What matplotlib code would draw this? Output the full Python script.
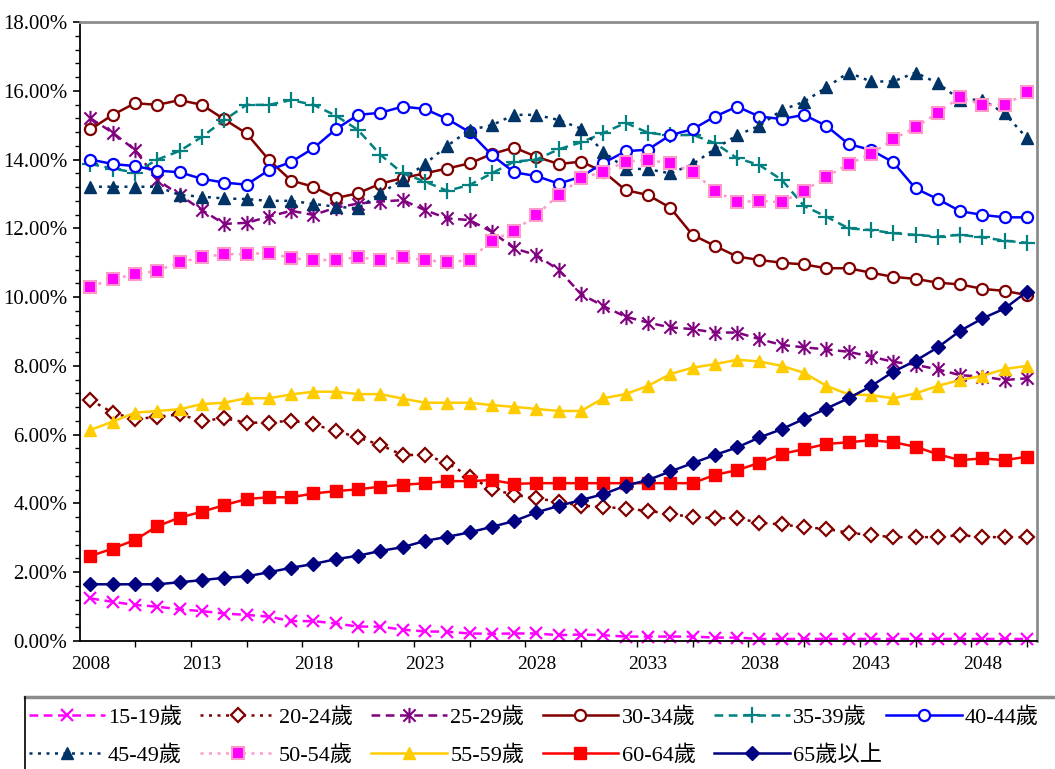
import matplotlib.pyplot as plt
from matplotlib.path import Path
from matplotlib.lines import Line2D
from matplotlib.ticker import FuncFormatter, MultipleLocator, FixedLocator

plt.rcParams['font.family'] = ['Liberation Serif', 'Noto Sans CJK TC']

years = list(range(2008, 2051))

age_15_19 = [1.24, 1.14, 1.05, 1.00, 0.92, 0.87, 0.80, 0.76, 0.71, 0.58, 0.58, 0.51, 0.42, 0.42, 0.33,
             0.28, 0.27, 0.22, 0.21, 0.22, 0.22, 0.17, 0.19, 0.17, 0.13, 0.13, 0.13, 0.13,
             0.10, 0.10, 0.06, 0.06, 0.06, 0.06, 0.06, 0.06, 0.06, 0.06, 0.06, 0.06, 0.06, 0.06, 0.06]
age_20_24 = [7.01, 6.64, 6.45, 6.52, 6.59, 6.40, 6.48, 6.35, 6.35, 6.41, 6.30, 6.11, 5.92, 5.70, 5.41,
             5.41, 5.18, 4.78, 4.42, 4.25, 4.15, 4.05, 3.93, 3.91, 3.84, 3.79, 3.69, 3.61,
             3.57, 3.57, 3.44, 3.39, 3.31, 3.26, 3.15, 3.08, 3.02, 3.02, 3.02, 3.08, 3.02, 3.02, 3.02]
age_25_29 = [15.20, 14.78, 14.28, 13.41, 12.97, 12.53, 12.13, 12.16, 12.34, 12.51, 12.39, 12.60, 12.72, 12.78, 12.82,
             12.53, 12.29, 12.24, 11.90, 11.42, 11.22, 10.79, 10.09, 9.74, 9.43, 9.26, 9.12, 9.07,
             8.97, 8.97, 8.78, 8.61, 8.54, 8.48, 8.41, 8.27, 8.12, 8.03, 7.90, 7.73, 7.69, 7.59, 7.64]
age_30_34 = [14.88, 15.30, 15.64, 15.59, 15.73, 15.59, 15.17, 14.76, 13.99, 13.39, 13.21, 12.88, 13.02, 13.30, 13.46,
             13.60, 13.74, 13.89, 14.16, 14.35, 14.08, 13.87, 13.94, 13.65, 13.11, 12.97, 12.60, 11.81,
             11.49, 11.18, 11.08, 11.00, 10.95, 10.84, 10.84, 10.71, 10.59, 10.53, 10.42, 10.37, 10.24, 10.18, 10.06]
age_35_39 = [13.87, 13.74, 13.62, 14.00, 14.25, 14.66, 15.15, 15.59, 15.59, 15.73, 15.59, 15.28, 14.86, 14.14, 13.60,
             13.36, 13.09, 13.26, 13.60, 13.94, 14.00, 14.30, 14.50, 14.77, 15.07, 14.78, 14.70, 14.72,
             14.48, 14.04, 13.84, 13.41, 12.65, 12.34, 12.00, 11.95, 11.86, 11.81, 11.76, 11.81, 11.74, 11.64, 11.58]
age_40_44 = [14.00, 13.87, 13.81, 13.68, 13.63, 13.44, 13.33, 13.27, 13.69, 13.93, 14.33, 14.88, 15.30, 15.36, 15.54,
             15.47, 15.18, 14.80, 14.13, 13.63, 13.52, 13.30, 13.50, 13.90, 14.24, 14.29, 14.71, 14.88,
             15.25, 15.54, 15.25, 15.18, 15.30, 14.98, 14.45, 14.28, 13.92, 13.16, 12.85, 12.50, 12.39, 12.32, 12.32]
age_45_49 = [13.21, 13.21, 13.21, 13.21, 12.97, 12.92, 12.87, 12.85, 12.80, 12.80, 12.71, 12.63, 12.58, 13.02, 13.41,
             13.87, 14.40, 14.86, 15.00, 15.30, 15.30, 15.15, 14.90, 14.23, 13.74, 13.72, 13.60, 13.86,
             14.31, 14.71, 14.98, 15.44, 15.68, 16.10, 16.53, 16.27, 16.27, 16.53, 16.22, 15.74, 15.74, 15.34, 14.62]
age_50_54 = [10.30, 10.53, 10.66, 10.77, 11.01, 11.16, 11.25, 11.25, 11.29, 11.13, 11.08, 11.08, 11.16, 11.08, 11.16,
             11.08, 11.01, 11.08, 11.64, 11.93, 12.39, 12.97, 13.45, 13.65, 13.94, 13.99, 13.89, 13.65,
             13.10, 12.76, 12.80, 12.76, 13.09, 13.50, 13.87, 14.16, 14.59, 14.94, 15.36, 15.82, 15.59, 15.59, 15.95]
age_55_59 = [6.14, 6.38, 6.64, 6.69, 6.74, 6.89, 6.93, 7.06, 7.06, 7.17, 7.25, 7.25, 7.18, 7.18, 7.05,
             6.93, 6.93, 6.93, 6.86, 6.81, 6.75, 6.69, 6.69, 7.06, 7.18, 7.42, 7.76, 7.95,
             8.05, 8.18, 8.13, 8.00, 7.80, 7.42, 7.17, 7.15, 7.06, 7.20, 7.42, 7.59, 7.71, 7.91, 8.00]
age_60_64 = [2.47, 2.69, 2.94, 3.34, 3.59, 3.76, 3.95, 4.13, 4.18, 4.18, 4.29, 4.36, 4.41, 4.49, 4.54,
             4.59, 4.65, 4.65, 4.68, 4.57, 4.59, 4.59, 4.59, 4.59, 4.59, 4.59, 4.59, 4.59,
             4.83, 4.97, 5.18, 5.44, 5.58, 5.73, 5.78, 5.84, 5.78, 5.65, 5.43, 5.26, 5.31, 5.26, 5.36]
age_65_up = [1.65, 1.65, 1.65, 1.65, 1.71, 1.77, 1.84, 1.88, 2.00, 2.13, 2.24, 2.38, 2.48, 2.62, 2.73,
             2.91, 3.03, 3.16, 3.32, 3.49, 3.74, 3.93, 4.10, 4.27, 4.52, 4.68, 4.93, 5.17,
             5.41, 5.63, 5.92, 6.16, 6.46, 6.76, 7.06, 7.41, 7.83, 8.15, 8.54, 9.02, 9.38, 9.67, 10.16]

series_labels = ['15-19歲', '20-24歲', '25-29歲', '30-34歲', '35-39歲', '40-44歲',
                 '45-49歲', '50-54歲', '55-59歲', '60-64歲', '65歲以上']

# asterisk marker: an x crossed by a vertical bar
star = Path([(-1, -1), (1, 1), (-1, 1), (1, -1), (0, -1.25), (0, 1.25)],
            [Path.MOVETO, Path.LINETO, Path.MOVETO, Path.LINETO, Path.MOVETO, Path.LINETO])

dots = (0, (1.2, 2.2))
dash = (0, (3.5, 2.2))

styles = [
    dict(color='#FF00FF', ls=dash, marker='x', ms=8, mew=1.6),
    dict(color='#800000', ls=dots, marker='D', ms=7, mew=1.6, mfc='white'),
    dict(color='#800080', ls=dash, marker=star, ms=11, mew=1.5),
    dict(color='#800000', ls='-', marker='o', ms=8, mew=1.6, mfc='white'),
    dict(color='#008080', ls=dash, marker='+', ms=11, mew=1.6),
    dict(color='#0000FF', ls='-', marker='o', ms=8, mew=1.6, mfc='white'),
    dict(color='#003366', ls=dots, marker='^', ms=9),
    dict(color='#FF99CC', ls=dots, marker='s', ms=8, mfc='#FF00FF', mec='#FF99CC', mew=1.5),
    dict(color='#FFCC00', ls='-', marker='^', ms=9),
    dict(color='#FF0000', ls='-', marker='s', ms=8),
    dict(color='#000080', ls='-', marker='D', ms=7.5),
]

data = [age_15_19, age_20_24, age_25_29, age_30_34, age_35_39, age_40_44,
        age_45_49, age_50_54, age_55_59, age_60_64, age_65_up]

fig = plt.figure(figsize=(10.55, 7.69), dpi=100)
ax = fig.add_axes([0.0758, 0.1664, 0.9072, 0.805])

handles = []
for vals, lab, st in zip(data, series_labels, styles):
    line, = ax.plot(years, vals, lw=1.8, label=lab, clip_on=False, **st)
    handles.append(line)

ax.set_xlim(2007.53, 2050.45)
ax.set_ylim(0, 18)

ax.yaxis.set_major_locator(MultipleLocator(2))
ax.yaxis.set_minor_locator(MultipleLocator(0.4))
ax.yaxis.set_major_formatter(FuncFormatter(lambda v, p: '%.2f%%' % v))
ax.tick_params(axis='y', which='major', direction='out', length=5, width=1.2, pad=4, labelsize=15)
ax.tick_params(axis='y', which='minor', direction='out', length=3.5, width=1.0)

ax.xaxis.set_major_locator(FixedLocator(list(range(2008, 2051, 5))))
ax.xaxis.set_minor_locator(FixedLocator([2007.5 + 2.5 * k for k in range(18)]))
ax.tick_params(axis='x', which='major', length=0, pad=11, labelsize=14)
ax.tick_params(axis='x', which='minor', direction='out', length=4, width=1.0)

for side in ['left', 'bottom']:
    ax.spines[side].set_color('black')
    ax.spines[side].set_linewidth(1.3)
for side in ['top', 'right']:
    ax.spines[side].set_color('#8C8C8C')
    ax.spines[side].set_linewidth(2)

# legend box border, running off the bottom-right of the figure
fig.add_artist(Line2D([25 / 1055, 1.0], [1 - 697 / 769] * 2, transform=fig.transFigure,
                      color='#8C8C8C', lw=2.5))
fig.add_artist(Line2D([25 / 1055] * 2, [0, 1 - 697 / 769], transform=fig.transFigure,
                      color='black', lw=1.2))

leg_kw = dict(loc='upper left', frameon=False, fontsize=16, handlelength=3.4,
              handletextpad=0.15, columnspacing=0.82, labelspacing=0.8,
              borderaxespad=0, borderpad=0, numpoints=1)

# first five columns, two rows each
order = [0, 6, 1, 7, 2, 8, 3, 9, 4, 10]
fig.legend([handles[i] for i in order], [series_labels[i] for i in order],
           bbox_to_anchor=(29 / 1055, 1 - 707 / 769), ncol=5, **leg_kw)
# last column holds a single entry
fig.legend([handles[5]], [series_labels[5]],
           bbox_to_anchor=(886 / 1055, 1 - 707 / 769), ncol=1, **leg_kw)

fig.savefig('out.png', dpi=100)
